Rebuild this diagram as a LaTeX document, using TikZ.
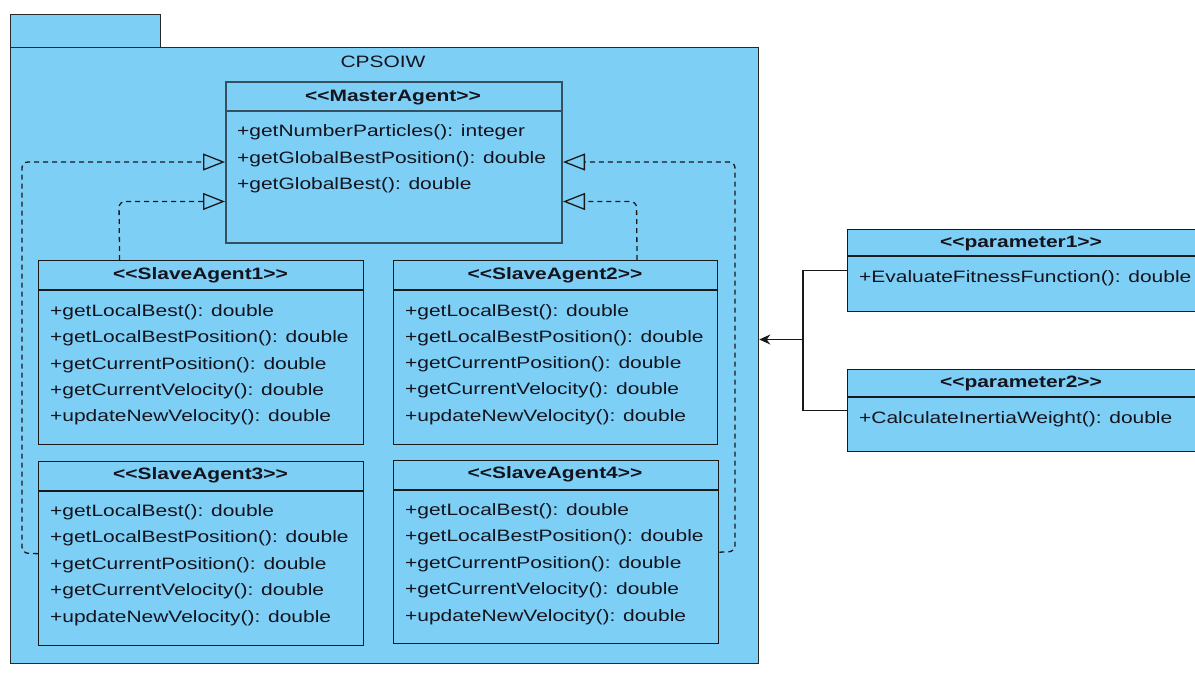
\documentclass[tikz,border=0pt]{standalone}
\usepackage{fontspec}
\setmainfont{Liberation Sans}[FakeStretch=1.27,Ligatures=TeXOff]
\usetikzlibrary{arrows.meta,calc}
\definecolor{boxfill}{RGB}{126,207,245}
\definecolor{pkgline}{RGB}{40,40,40}
\definecolor{clsline}{RGB}{25,25,25}
\definecolor{mline}{RGB}{55,80,95}
\definecolor{txt}{RGB}{20,20,30}
\newcommand\fsz{\fontsize{16.5}{19}\selectfont}
\begin{document}
\begin{tikzpicture}[x=1pt,y=-1pt,
  pkgbox/.style={draw=pkgline,fill=boxfill,line width=1.3pt,inner sep=0,anchor=north west},
  clsbox/.style={draw=clsline,fill=boxfill,line width=1.4pt,inner sep=0,anchor=north west},
  mbox/.style={draw=mline,fill=boxfill,line width=2pt,inner sep=0,anchor=north west},
  sep/.style={draw=clsline,line width=1.4pt},
  ttl/.style={font=\bfseries\fsz,text=txt,inner sep=0,anchor=base},
  itm/.style={font=\fsz,text=txt,inner sep=0,anchor=base west},
  real/.style={draw=clsline,line width=1.3pt,dash pattern=on 5pt off 4pt,rounded corners=6pt,
    -{Triangle[open,length=22pt,width=17pt,line width=1.3pt]}},
  assoc/.style={draw=clsline,line width=1.3pt},
]
\useasboundingbox (0,0) rectangle (1195,677);
\clip (0,0) rectangle (1195,677);
\fill[white] (0,0) rectangle (1195,677);
% package
\node[pkgbox,minimum width=150pt,minimum height=33pt] (tab) at (10,14) {};
\node[pkgbox,minimum width=748pt,minimum height=616pt] (pkg) at (10,47) {};
\node[font=\fsz,text=txt,inner sep=0,anchor=base] (pkgname) at (383,68) {CPSOIW};
% master
\node[mbox,minimum width=336pt,minimum height=161pt] (master) at (225,81) {};
\draw[draw=mline,line width=2pt] (225,111) -- (561,111);
\node[ttl] (mt) at (393,101.5) {<<MasterAgent>>};
\node[itm] (m1) at (237,136.5) {+getNumberParticles(): integer};
\node[itm] (m2) at (237,163) {+getGlobalBestPosition(): double};
\node[itm] (m3) at (237,189.5) {+getGlobalBest(): double};
% slaves
\node[clsbox,minimum width=325pt,minimum height=184pt] (s1) at (38,260) {};
\node[clsbox,minimum width=324pt,minimum height=184pt] (s2) at (393,260) {};
\node[clsbox,minimum width=325pt,minimum height=184pt] (s3) at (38,461) {};
\node[clsbox,minimum width=325pt,minimum height=183pt] (s4) at (393,460) {};
\draw[sep] (s1.west |- 0,290) -- (s1.east |- 0,290);
\draw[sep] (s2.west |- 0,290) -- (s2.east |- 0,290);
\draw[sep] (s3.west |- 0,491) -- (s3.east |- 0,491);
\draw[sep] (s4.west |- 0,490) -- (s4.east |- 0,490);
\node[ttl] (s1t) at (200.5,279.5) {<<SlaveAgent1>>};
\node[ttl] (s2t) at (555,279.5) {<<SlaveAgent2>>};
\node[ttl] (s3t) at (200.5,479.5) {<<SlaveAgent3>>};
\node[ttl] (s4t) at (555,478.5) {<<SlaveAgent4>>};
\foreach \t [count=\i] in {+getLocalBest(): double,+getLocalBestPosition(): double,+getCurrentPosition(): double,+getCurrentVelocity(): double,+updateNewVelocity(): double}{
  \node[itm] (s1i\i) at (50,{316.5+26.3*(\i-1)}) {\t};
  \node[itm] (s2i\i) at (405,{316+26.3*(\i-1)}) {\t};
  \node[itm] (s3i\i) at (50,{516.5+26.4*(\i-1)}) {\t};
  \node[itm] (s4i\i) at (405,{515.5+26.4*(\i-1)}) {\t};
}
% parameters
\node[clsbox,minimum width=360pt,minimum height=82pt] (p1) at (847,228.5) {};
\node[clsbox,minimum width=360pt,minimum height=82pt] (p2) at (847,368.5) {};
\draw[sep] (847,256) -- (1200,256);
\draw[sep] (847,397) -- (1200,397);
\node[ttl] (p1t) at (1021,247.5) {<<parameter1>>};
\node[ttl] (p2t) at (1021,387.5) {<<parameter2>>};
\node[itm] (p1i) at (859,282.5) {+EvaluateFitnessFunction(): double};
\node[itm] (p2i) at (859,423.5) {+CalculateInertiaWeight(): double};
% association
\coordinate (jn) at (803,339.5);
\draw[assoc] (p1.west) -| (jn) |- (p2.west);
\draw[assoc,-{Stealth[length=11pt,width=10pt]}] (jn) -- (pkg.east |- jn);
% realizations
\draw[real] (s3.west) -- (22,553) -- (22,162) -- (master.west |- 0,162);
\draw[real] ($(s1.north west)!0.25!(s1.north east)$) -- (119,201.5) -- (master.west |- 0,201.5);
\draw[real] ($(s2.north west)!0.75!(s2.north east)$) -- (636.5,201.5) -- (master.east |- 0,201.5);
\draw[real] (s4.east) -- (735,551.5) -- (735,162) -- (master.east |- 0,162);
\end{tikzpicture}
\end{document}
